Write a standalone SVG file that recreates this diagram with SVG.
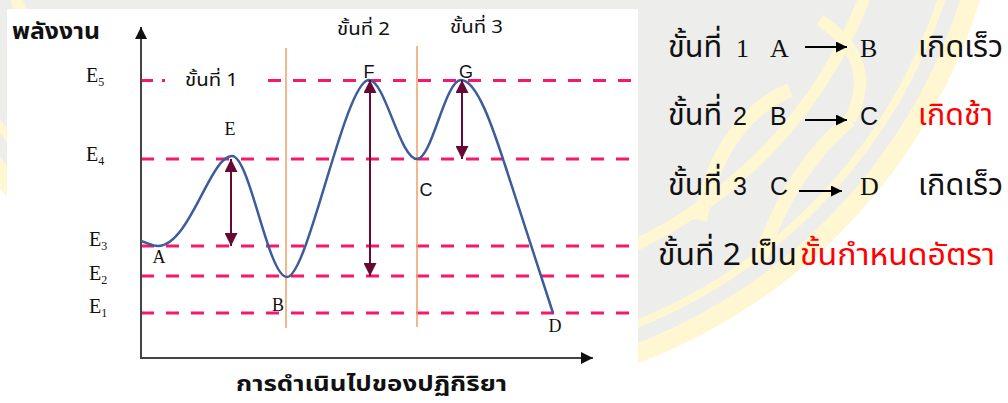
<svg xmlns="http://www.w3.org/2000/svg" width="1008" height="403" viewBox="0 0 1008 403">
<style>
.lvl{stroke:#F5186C;stroke-width:3;stroke-dasharray:13 12;fill:none}
.orange{stroke:#F2A56E;stroke-width:1.6}
.axis{stroke:#444;stroke-width:2;fill:none}
.curve{stroke:#3D5C9A;stroke-width:2.5;fill:none}
.dbl{stroke:#660A33;stroke-width:2;marker-start:url(#mh);marker-end:url(#mh)}
.serif{font-family:"Liberation Serif","Noto Sans Thai",serif;fill:#111}
.sans{font-family:"Liberation Sans","Noto Sans Thai",sans-serif;fill:#111}
.thai{font-family:"Noto Sans Thai","Noto Sans","DejaVu Sans",sans-serif;fill:#111}
.red{fill:#FF0000}
.yl{fill:none;stroke:#FFF6D2}
</style>
<defs>
<marker id="mh" viewBox="0 0 10 10" refX="10" refY="5" markerUnits="userSpaceOnUse" markerWidth="14" markerHeight="13" orient="auto-start-reverse">
<path d="M0,0 L10,5 L0,10 z" fill="#660A33"/>
</marker>
<marker id="ah" viewBox="0 0 10 10" refX="10" refY="5" markerUnits="userSpaceOnUse" markerWidth="13" markerHeight="12" orient="auto">
<path d="M0,0 L10,5 L0,10 z" fill="#111"/>
</marker>
<marker id="ahs" viewBox="0 0 10 10" refX="10" refY="5" markerUnits="userSpaceOnUse" markerWidth="14" markerHeight="11" orient="auto">
<path d="M0,0 L10,5 L0,10 z" fill="#000"/>
</marker>
</defs>
<rect width="1008" height="403" fill="#fff"/>
<g id="watermark">
<circle cx="440" cy="-166" r="565" fill="#FFF6D2"/>
<circle cx="440" cy="-166" r="546" fill="#EDEDEC"/>
<circle class="yl" cx="440" cy="-166" r="528" stroke-width="8"/>
<circle class="yl" cx="440" cy="-166" r="455" stroke-width="12"/>
<path class="yl" stroke-width="14" d="M700,220 Q720,120 790,90"/>
<path class="yl" stroke-width="14" d="M760,260 Q790,170 850,120"/>
<path class="yl" stroke-width="12" d="M820,20 Q880,60 850,120"/>
</g>
<rect id="panel" x="7" y="9" width="631" height="394" fill="#fff"/>
<g id="levels">
<line class="lvl" x1="141" y1="80.5" x2="153" y2="80.5"/>
<line class="lvl" x1="162" y1="80.5" x2="165" y2="80.5"/>
<line class="lvl" x1="268" y1="80.5" x2="633" y2="80.5"/>
<line class="lvl" x1="141" y1="159" x2="633" y2="159"/>
<line class="lvl" x1="141" y1="246" x2="633" y2="246"/>
<line class="lvl" x1="141" y1="276" x2="633" y2="276"/>
<line class="lvl" x1="141" y1="313" x2="633" y2="313"/>
</g>
<g id="steps">
<line class="orange" x1="286" y1="48" x2="286" y2="328"/>
<line class="orange" x1="417" y1="46" x2="417" y2="327"/>
</g>
<g id="axes">
<line class="axis" x1="141" y1="358" x2="141" y2="27" marker-end="url(#ah)"/>
<line class="axis" x1="140" y1="358" x2="593" y2="358" marker-end="url(#ah)"/>
</g>
<g id="curve">
<path class="curve" d="M141,241 C148,243 152,246 158,246 C190,245 210,156 232,156 C250,156 268,277 287,277 C308,277 345,80 369,80 C385,80 400,159 417,159 C432,159 445,80 461,80 C478,80 495,135 505,165 L553,313"/>
</g>
<g id="connectors">
<line class="dbl" x1="231" y1="159" x2="231" y2="246"/>
<line class="dbl" x1="370" y1="80" x2="370" y2="276"/>
<line class="dbl" x1="462" y1="80" x2="462" y2="159"/>
</g>
<g id="axis-labels">
<text class="thai" x="12" y="39" font-size="23" font-weight="bold" textLength="88" lengthAdjust="spacingAndGlyphs">พลังงาน</text>
<text class="serif" x="86" y="82" font-size="20">E<tspan font-size="12" dy="4">5</tspan></text>
<text class="serif" x="86" y="161" font-size="20">E<tspan font-size="12" dy="4">4</tspan></text>
<text class="serif" x="89" y="246" font-size="20">E<tspan font-size="12" dy="4">3</tspan></text>
<text class="serif" x="89" y="280" font-size="20">E<tspan font-size="12" dy="4">2</tspan></text>
<text class="serif" x="89" y="313" font-size="20">E<tspan font-size="12" dy="4">1</tspan></text>
<text class="thai" x="236" y="391" font-size="22" font-weight="bold" textLength="271" lengthAdjust="spacingAndGlyphs">การดำเนินไปของปฏิกิริยา</text>
</g>
<g id="step-labels">
<text class="thai" x="185" y="86" font-size="18" fill="#333" textLength="53" lengthAdjust="spacingAndGlyphs">ขั้นที่ 1</text>
<text class="thai" x="337" y="35" font-size="18" fill="#333" textLength="53" lengthAdjust="spacingAndGlyphs">ขั้นที่ 2</text>
<text class="thai" x="450" y="33" font-size="18" fill="#333" textLength="53" lengthAdjust="spacingAndGlyphs">ขั้นที่ 3</text>
</g>
<g id="point-labels">
<text class="serif" x="230" y="135" font-size="18" text-anchor="middle">E</text>
<text class="serif" x="159" y="263" font-size="18" text-anchor="middle">A</text>
<text class="serif" x="278" y="311" font-size="18" text-anchor="middle">B</text>
<text class="sans" x="369" y="78" font-size="18" text-anchor="middle">F</text>
<text class="sans" x="466" y="78" font-size="18" text-anchor="middle">G</text>
<text class="sans" x="426" y="196" font-size="18" text-anchor="middle">C</text>
<text class="serif" x="555" y="332" font-size="18" text-anchor="middle">D</text>
</g>
<g id="legend">
<text class="thai" x="668" y="57" font-size="31" textLength="54" lengthAdjust="spacingAndGlyphs">ขั้นที่</text>
<text class="serif" x="736" y="57" font-size="26">1</text>
<text class="serif" x="770" y="57" font-size="26">A</text>
<line x1="805" y1="47" x2="847" y2="47" stroke="#000" stroke-width="2" marker-end="url(#ahs)"/>
<text class="serif" x="860" y="57" font-size="26">B</text>
<text class="thai" x="918" y="57" font-size="31" textLength="85" lengthAdjust="spacingAndGlyphs">เกิดเร็ว</text>
<text class="thai" x="668" y="125" font-size="31" textLength="54" lengthAdjust="spacingAndGlyphs">ขั้นที่</text>
<text class="sans" x="733" y="125" font-size="25">2</text>
<text class="sans" x="770" y="125" font-size="25">B</text>
<line x1="805" y1="120" x2="847" y2="120" stroke="#000" stroke-width="2" marker-end="url(#ahs)"/>
<text class="sans" x="860" y="125" font-size="25">C</text>
<text class="thai red" x="918" y="125" font-size="31" textLength="75" lengthAdjust="spacingAndGlyphs">เกิดช้า</text>
<text class="thai" x="668" y="195" font-size="31" textLength="54" lengthAdjust="spacingAndGlyphs">ขั้นที่</text>
<text class="sans" x="733" y="195" font-size="25">3</text>
<text class="sans" x="770" y="195" font-size="25">C</text>
<line x1="799" y1="191" x2="842" y2="191" stroke="#000" stroke-width="2" marker-end="url(#ahs)"/>
<text class="serif" x="860" y="195" font-size="26">D</text>
<text class="thai" x="918" y="195" font-size="31" textLength="85" lengthAdjust="spacingAndGlyphs">เกิดเร็ว</text>
<text class="thai" x="658" y="265" font-size="31" textLength="139" lengthAdjust="spacingAndGlyphs">ขั้นที่ 2 เป็น</text>
<text class="thai red" x="800" y="265" font-size="31" textLength="195" lengthAdjust="spacingAndGlyphs">ขั้นกำหนดอัตรา</text>
</g>
</svg>
